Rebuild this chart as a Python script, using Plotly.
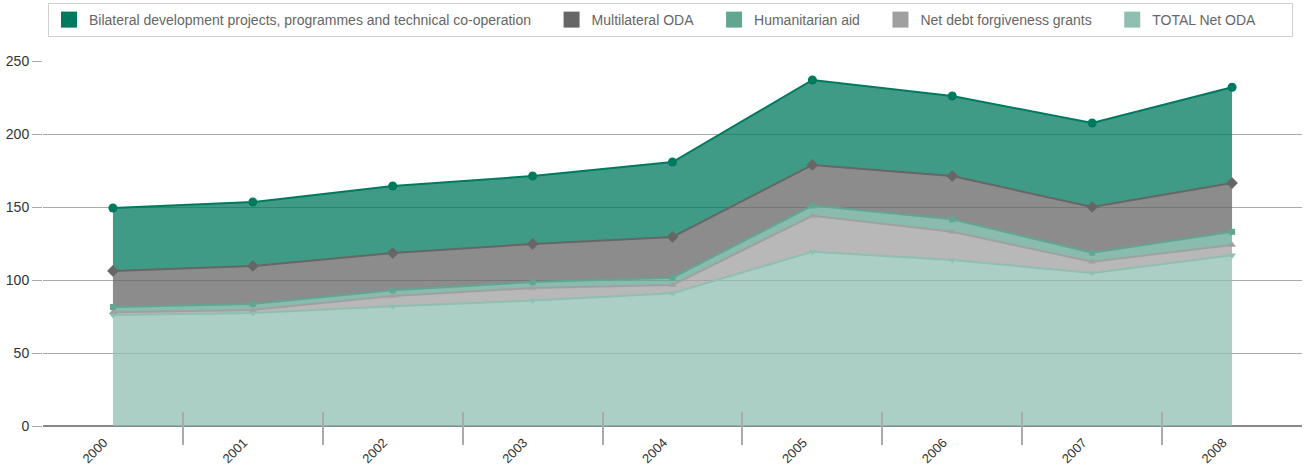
import plotly.graph_objects as go

years = [2000, 2001, 2002, 2003, 2004, 2005, 2006, 2007, 2008]
year_labels = [str(y) for y in years]
boundaries = [2000.5, 2001.5, 2002.5, 2003.5, 2004.5, 2005.5, 2006.5, 2007.5]

total_net_oda = [76, 77.4, 82, 86, 91, 119.4, 113.7, 104.8, 117]
net_debt = [2, 2.1, 7, 8.5, 5.6, 24.6, 19.3, 7.7, 7]
humanitarian = [3.5, 4.1, 4, 4.1, 5, 7, 8.6, 6.2, 9]
multilateral = [24.7, 26, 25.5, 26.1, 27.9, 27.8, 29.6, 31.3, 33.4]
bilateral = [43.1, 43.8, 45.9, 46.5, 51.3, 58.2, 54.8, 57.5, 65.6]

y_ticks = [0, 50, 100, 150, 200, 250]

# stacking order bottom -> top
series = [
    ("TOTAL Net ODA", total_net_oda, (143, 191, 176), "triangle-down", 7),
    ("Net debt forgiveness grants", net_debt, (160, 160, 160), "triangle-up", 7),
    ("Humanitarian aid", humanitarian, (98, 166, 146), "square", 6),
    ("Multilateral ODA", multilateral, (102, 102, 102), "diamond", 9),
    ("Bilateral development projects, programmes and technical co-operation",
     bilateral, (0, 122, 94), "circle", 9),
]

fig = go.Figure()
for name, vals, c, sym, sz in series:
    col = "rgb(%d,%d,%d)" % c
    fill = "rgba(%d,%d,%d,0.75)" % c
    fig.add_trace(go.Scatter(
        x=years, y=vals, name=name, stackgroup="one", mode="lines+markers",
        line=dict(color=col, width=2), fillcolor=fill,
        marker=dict(symbol=sym, size=sz, color=col),
        showlegend=False, hoverinfo="skip",
    ))

# legend entries (plain squares) in legend order; non-breaking spaces pad the gaps
pad = "\u00a0" * 4
legend_items = list(reversed(series))
for i, (name, vals, c, sym, sz) in enumerate(legend_items):
    label = name + (pad if i < len(legend_items) - 1 else pad * 2)
    fig.add_trace(go.Scatter(
        x=[None], y=[None], name=label, mode="markers",
        marker=dict(symbol="square", size=17, color="rgb(%d,%d,%d)" % c),
        showlegend=True, hoverinfo="skip",
    ))

# helper trace for the label axis
fig.add_trace(go.Scatter(x=years, y=total_net_oda, xaxis="x2", mode="lines",
                         opacity=0, line=dict(width=0), showlegend=False,
                         hoverinfo="skip"))

label_shift = 0.065  # rotated labels sit just left of their year

fig.update_layout(
    width=1305, height=469,
    margin=dict(l=43, r=3, t=61, b=24, autoexpand=False),
    paper_bgcolor="white", plot_bgcolor="white",
    font=dict(family="Liberation Sans, Arial, sans-serif", size=14, color="#333"),
    showlegend=True,
    legend=dict(orientation="h", x=(48 - 43) / 1259, xanchor="left",
                y=1 + 58 / 384, yanchor="top",
                bordercolor="#d0d0d0", borderwidth=1, bgcolor="white",
                font=dict(size=14, color="#666"), traceorder="normal"),
    xaxis=dict(range=[1999.5, 2008.5], tickmode="array", tickvals=years,
               showticklabels=False, ticks="", showgrid=False, zeroline=False,
               showline=False,
               minor=dict(tickmode="array", tickvals=boundaries, ticks="inside",
                          ticklen=33, tickwidth=2, tickcolor="#aaaaaa",
                          showgrid=False)),
    xaxis2=dict(overlaying="x", matches="x", anchor="free", position=0.035,
                side="bottom", tickmode="array",
                tickvals=[y - label_shift for y in years],
                ticktext=year_labels, tickangle=-45, ticks="",
                showgrid=False, zeroline=False, showline=False,
                tickfont=dict(size=13, color="#333")),
    yaxis=dict(range=[-13, 250], tickmode="array", tickvals=y_ticks,
               ticks="outside", ticklen=10, tickcolor="#aaaaaa",
               showgrid=True, gridcolor="#aaaaaa", gridwidth=1,
               zeroline=True, zerolinecolor="#888888", zerolinewidth=2,
               showline=False, tickfont=dict(size=14, color="#333")),
)

fig.write_html("out.html", config={"displayModeBar": False},
               post_script="document.body.style.margin='0';document.body.style.overflow='hidden';")
